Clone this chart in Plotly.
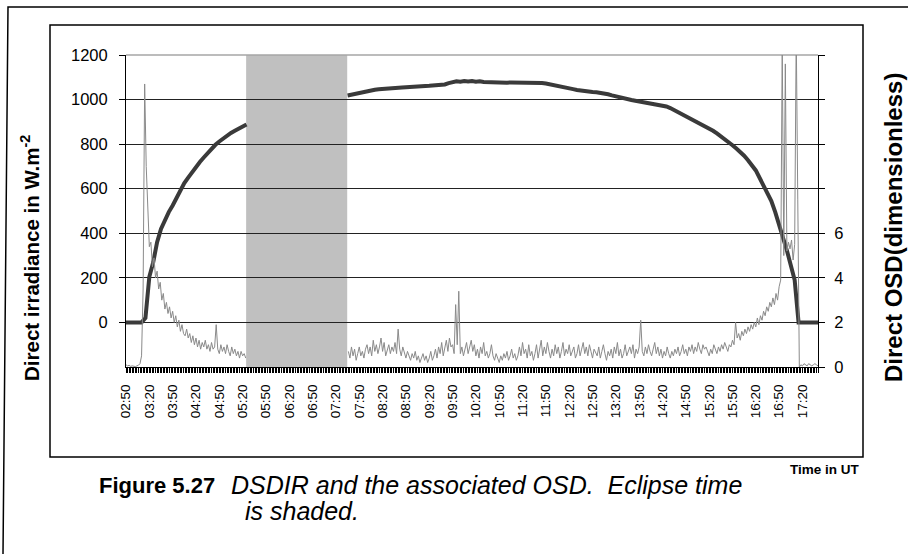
import plotly.graph_objects as go

# ---------------------------------------------------------------- data
# Time of day in minutes after midnight (UT)
irr_time_pre = [170, 175, 180, 185, 190, 195, 200, 205, 210, 215, 220, 225, 230, 235, 240, 245,
                250, 255, 260, 265, 270, 275, 280, 285, 290, 295, 300, 305, 310, 315, 320, 325]
irr_pre = [0, 0, 0, 0, 0, 20, 205, 270, 360, 420, 460, 495, 525, 560, 595, 625,
           650, 675, 700, 720, 740, 760, 780, 797, 812, 826, 838, 850, 860, 870, 880, 888]

irr_time_post = list(range(455, 1061, 5))
irr_post = [1018, 1022, 1027, 1031, 1035, 1038, 1041, 1044, 1046, 1048,
            1049, 1050, 1052, 1053, 1054, 1055, 1057, 1058, 1059, 1060,
            1061, 1062, 1063, 1064, 1065, 1068, 1074, 1079, 1082, 1080,
            1083, 1081, 1083, 1080, 1082, 1079, 1078, 1077, 1078, 1077,
            1077, 1076, 1077, 1077, 1076, 1077, 1077, 1076, 1077, 1076,
            1074, 1072, 1069, 1066, 1063, 1059, 1055, 1051, 1047, 1043,
            1040, 1038, 1036, 1034, 1033, 1031, 1028, 1024, 1019, 1014,
            1010, 1005, 1001, 998, 995, 992, 989, 985, 982, 980,
            977, 974, 969, 962, 953, 944, 936, 927, 918, 909,
            900, 892, 882, 871, 860, 848, 836, 823, 810, 795,
            780, 765, 748, 728, 708, 682, 648, 615, 585, 545,
            495, 430, 380, 323, 260, 190, 0, 0, 0, 0,
            0, 0]

osd_time_pre = list(range(170, 325, 2))
osd_pre = [0.10, 0.05, 0.08, 0.03, 0.05, 0.04, 0.02, 0.05, 0.08, 0.15,
           0.5, 3.5, 12.7, 9.0, 6.8, 5.4, 5.6, 4.5, 4.9, 4.0,
           4.3, 3.5, 3.8, 3.0, 3.3, 2.6, 2.9, 2.4, 2.7, 2.2,
           2.5, 2.0, 2.3, 1.8, 2.1, 1.6, 1.9, 1.5, 1.4, 1.7,
           1.3, 1.5, 1.1, 1.4, 1.0, 1.3, 0.9, 1.2, 0.8, 1.1,
           0.9, 1.2, 0.8, 1.0, 0.7, 1.1, 0.8, 0.9, 1.9, 0.8,
           0.6, 1.0, 0.7, 0.9, 0.6, 1.0, 0.7, 0.5, 0.9, 0.6,
           0.8, 0.5, 0.7, 0.4, 0.7, 0.5, 0.6, 0.4]

osd_time_post = list(range(456, 1061, 2))
osd_post = [0.7, 0.4, 0.9, 0.5, 0.8, 0.3, 0.6, 0.9, 0.5, 0.7,
            0.4, 0.8, 1.0, 0.6, 0.9, 0.5, 1.2, 0.7, 1.0, 0.6,
            0.9, 1.3, 0.7, 1.1, 0.5, 0.8, 1.0, 0.6, 0.9, 0.7,
            1.1, 0.6, 1.7, 0.8, 0.5, 0.9, 0.6, 0.4, 0.7, 0.5,
            0.3, 0.6, 0.4, 0.7, 0.3, 0.5, 0.2, 0.4, 0.6, 0.3,
            0.5, 0.2, 0.4, 0.7, 0.3, 0.5, 0.8, 0.4, 0.9, 0.6,
            1.1, 0.5, 0.8, 1.2, 0.7, 1.3, 0.9, 1.0, 0.6, 2.8,
            1.0, 3.4, 0.6, 0.9, 0.5, 0.8, 1.1, 0.6, 0.9, 1.2,
            0.7, 1.0, 0.5, 0.8, 0.4, 0.9, 0.6, 1.1, 0.5, 0.7,
            0.4, 0.6, 1.0, 0.5, 0.3, 0.6, 0.4, 0.2, 0.5, 0.3,
            0.6, 0.4, 0.7, 0.3, 0.5, 0.8, 0.4, 0.6, 0.3, 0.5,
            0.9, 0.5, 1.1, 0.6, 0.8, 0.4, 1.0, 0.5, 0.7, 0.3,
            0.6, 1.0, 0.4, 0.8, 1.2, 0.5, 0.9, 0.6, 1.1, 0.7,
            0.4, 0.8, 0.5, 1.0, 0.6, 0.9, 0.4, 0.7, 1.1, 0.5,
            0.8, 0.6, 1.0, 0.5, 0.7, 0.9, 0.4, 0.6, 1.0, 0.5,
            0.8, 1.1, 0.6, 0.9, 0.5, 1.0, 0.7, 0.4, 0.8, 0.6,
            0.5, 0.9, 0.4, 0.7, 1.0, 0.6, 0.3, 0.7, 0.5, 0.8,
            0.4, 0.9, 0.6, 1.1, 0.5, 0.8, 0.4, 0.6, 1.0, 0.5,
            0.7, 0.9, 0.6, 1.0, 0.4, 0.8, 0.6, 0.9, 2.1, 0.7,
            0.5, 0.9, 0.6, 1.0, 0.7, 0.5, 0.8, 1.1, 0.6, 0.9,
            0.5, 0.8, 0.4, 0.7, 0.5, 0.9, 0.6, 0.4, 0.7, 0.5,
            0.8, 0.6, 0.9, 0.5, 0.7, 1.0, 0.6, 0.8, 0.5, 0.9,
            0.7, 1.0, 0.6, 0.9, 0.7, 1.1, 0.8, 0.6, 1.0, 0.8,
            0.9, 0.7, 0.5, 0.8, 0.6, 1.0, 0.8, 0.6, 0.9, 0.7,
            1.0, 0.8, 1.1, 0.9, 0.7, 1.0, 0.9, 1.2, 1.0, 2.0,
            1.3, 1.5, 1.2, 1.6, 1.4, 1.7, 1.5, 1.8, 1.6, 1.9,
            1.7, 2.0, 1.8, 2.2, 1.9, 2.3, 2.1, 2.5, 2.3, 2.7,
            2.5, 2.9, 2.7, 3.1, 2.8, 3.3, 3.0, 3.6, 3.9, 14.5,
            5.0, 13.6, 5.2, 5.6, 5.3, 5.7, 4.8, 5.5, 15.0, 7.5,
            0.0, 0.1, 0.05, 0.15, 0.1, 0.05, 0.15, 0.1, 0.05, 0.1,
            0.15, 0.1, 0.05]

eclipse_start, eclipse_end = 324.5, 454.5

tick_minutes = list(range(170, 1041, 30))
tick_labels = ["02:50", "03:20", "03:50", "04:20", "04:50", "05:20", "05:50", "06:20",
               "06:50", "07:20", "07:50", "08:20", "08:50", "09:20", "09:50", "10:20",
               "10:50", "11:20", "11:50", "12:20", "12:50", "13:20", "13:50", "14:20",
               "14:50", "15:20", "15:50", "16:20", "16:50", "17:20"]

irr_ticks = [0, 200, 400, 600, 800, 1000, 1200]
osd_ticks = [0, 2, 4, 6]          # labelled; unlabelled tick marks continue up to 14

# ---------------------------------------------------------------- layout helpers
W, H = 908, 554
ML, MR, MT, MB = 126, 90, 55, 187
PW, PH = W - ML - MR, H - MT - MB
FONT = "Liberation Sans, Arial, Helvetica, sans-serif"


def fx(x):
    """pixel column -> paper x"""
    return (x - ML) / PW


def fy(y):
    """pixel row -> paper y"""
    return (H - MB - y) / PH


# gaps during the eclipse
irr_x = irr_time_pre + [None] + irr_time_post
irr_y = irr_pre + [None] + irr_post
osd_x = osd_time_pre + [None] + osd_time_post
osd_y = osd_pre + [None] + osd_post

fig = go.Figure()
fig.add_trace(go.Scatter(x=irr_x, y=irr_y, mode="lines", yaxis="y",
                         line=dict(color="#3a3a3a", width=4), connectgaps=False,
                         hoverinfo="skip"))
fig.add_trace(go.Scatter(x=osd_x, y=osd_y, mode="lines", yaxis="y2",
                         line=dict(color="#8a8a8a", width=1), connectgaps=False,
                         hoverinfo="skip"))

shapes = [
    # eclipse period
    dict(type="rect", xref="x", yref="paper", x0=eclipse_start, x1=eclipse_end, y0=0, y1=1,
         fillcolor="#c0c0c0", line=dict(width=0), layer="between"),
    # top edge of the plot area
    dict(type="line", xref="paper", yref="paper", x0=0, x1=1, y0=1, y1=1,
         line=dict(color="#a6a6a6", width=1.5), layer="between"),
    # chart area border
    dict(type="rect", xref="paper", yref="paper", x0=fx(50), x1=fx(863), y0=fy(25), y1=fy(457),
         line=dict(color="black", width=1.5), fillcolor="rgba(0,0,0,0)", layer="above"),
    # page frame
    dict(type="path", xref="paper", yref="paper",
         path=f"M {fx(3)} {fy(554)} L {fx(8)} {fy(7)} L {fx(908)} {fy(7)}",
         line=dict(color="black", width=1.5), layer="above"),
]

annotations = [
    dict(text="<b>Direct irradiance in W.m<sup>-2</sup></b>", x=fx(30), y=fy(258),
         textangle=-90, font=dict(size=20.5, family=FONT)),
    dict(text="<b>Direct OSD(dimensionless)</b>", x=fx(893), y=fy(228),
         textangle=-90, font=dict(size=24, family=FONT)),
    dict(text="<b>Time in UT</b>", x=fx(862), y=fy(469), xanchor="right",
         font=dict(size=13.5, family=FONT)),
    dict(text="<b>Figure 5.27</b>", x=fx(97), y=fy(485), xanchor="left",
         font=dict(size=22, family=FONT)),
    dict(text="DSDIR and the associated OSD.&nbsp; Eclipse time", x=fx(229), y=fy(485),
         xanchor="left", font=dict(size=25, family=FONT, style="italic")),
    dict(text="is shaded.", x=fx(243), y=fy(511), xanchor="left",
         font=dict(size=25, family=FONT, style="italic")),
]
for a in annotations:
    a.update(xref="paper", yref="paper", showarrow=False, yanchor="middle")
    a.setdefault("xanchor", "center")

fig.update_layout(
    width=W, height=H,
    margin=dict(l=ML, r=MR, t=MT, b=MB, pad=0),
    paper_bgcolor="white", plot_bgcolor="white",
    showlegend=False,
    font=dict(family=FONT, color="black"),
    shapes=shapes,
    annotations=annotations,
    xaxis=dict(range=[170, 1060], tickmode="array", tickvals=tick_minutes, ticktext=tick_labels,
               tickangle=-90, ticks="outside", ticklen=5, tickcolor="black", tickwidth=1,
               showline=True, linecolor="black", linewidth=1, showgrid=False, zeroline=False,
               tickfont=dict(size=13.5, family=FONT), ticklabelstandoff=6,
               minor=dict(tick0=170, dtick=2, ticks="outside", ticklen=5, tickcolor="black",
                          tickwidth=1, showgrid=False)),
    yaxis=dict(range=[-200, 1200], tickmode="array", tickvals=irr_ticks,
               ticks="outside", ticklen=6, tickcolor="black", showline=True, linecolor="black",
               linewidth=1, showgrid=True, gridcolor="#222222", gridwidth=1, zeroline=False,
               tickfont=dict(size=16.5, family=FONT), ticklabelstandoff=8),
    yaxis2=dict(range=[0, 14], overlaying="y", side="right", tickmode="array",
                tickvals=osd_ticks, ticks="outside", ticklen=6,
                tickcolor="black", showline=True, linecolor="black", linewidth=1,
                showgrid=False, zeroline=False, tickfont=dict(size=16.5, family=FONT),
                ticklabelstandoff=6,
                minor=dict(tick0=0, dtick=2, ticks="outside", ticklen=6, tickcolor="black",
                           tickwidth=1, showgrid=False)),
)

fig.write_html("out.html")
